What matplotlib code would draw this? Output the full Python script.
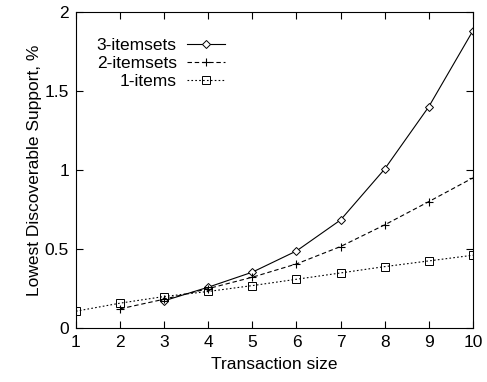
import matplotlib
matplotlib.use('Agg')
import matplotlib.pyplot as plt

plt.rcParams['font.family'] = ['Liberation Sans', 'DejaVu Sans']

size_3 = [3, 4, 5, 6, 7, 8, 9, 10]
sup_3 = [0.173, 0.259, 0.354, 0.488, 0.684, 1.006, 1.40, 1.88]
size_2 = [2, 3, 4, 5, 6, 7, 8, 9, 10]
sup_2 = [0.122, 0.183, 0.25, 0.322, 0.406, 0.516, 0.653, 0.80, 0.95]
size_1 = [1, 2, 3, 4, 5, 6, 7, 8, 9, 10]
sup_1 = [0.107, 0.158, 0.20, 0.232, 0.269, 0.309, 0.349, 0.389, 0.425, 0.461]

fs = 12.5

fig = plt.figure(figsize=(4.87, 3.82), dpi=100)
ax = fig.add_axes([0.156, 0.141, 0.815, 0.828])

ax.plot(size_3, sup_3, '-', color='black', lw=0.8, marker='D', ms=4,
        mfc='white', mec='black', mew=0.7, label='3-itemsets')
ax.plot(size_2, sup_2, color='black', lw=0.8, ls=(0, (4, 2.5)), marker='+',
        ms=6, mew=0.8, label='2-itemsets')
ax.plot(size_1, sup_1, color='black', lw=0.8, ls=(0, (1.5, 2)), marker='s',
        ms=6, mfc='none', mec='black', mew=0.7, label='1-items')

ax.set_xlim(1, 10)
ax.set_ylim(0, 2)
ax.set_xticks(range(1, 11))
ax.set_yticks([0, 0.5, 1, 1.5, 2])
ax.set_yticklabels(['0', '0.5', '1', '1.5', '2'])
ax.tick_params(direction='in', top=True, right=True, labelsize=fs, length=5,
               pad=5)
ax.set_xlabel('Transaction size', fontsize=fs, labelpad=5)
ax.set_ylabel('Lowest Discoverable Support, %', fontsize=fs, labelpad=2)

leg = ax.legend(loc='upper left', bbox_to_anchor=(0.035, 0.94), frameon=False,
                markerfirst=False, fontsize=fs, handlelength=2.2,
                handletextpad=0.6, labelspacing=0.17, borderaxespad=0)
for t in leg.get_texts():
    t.set_ha('right')
leg._legend_box.align = 'right'

plt.savefig('out.png')
